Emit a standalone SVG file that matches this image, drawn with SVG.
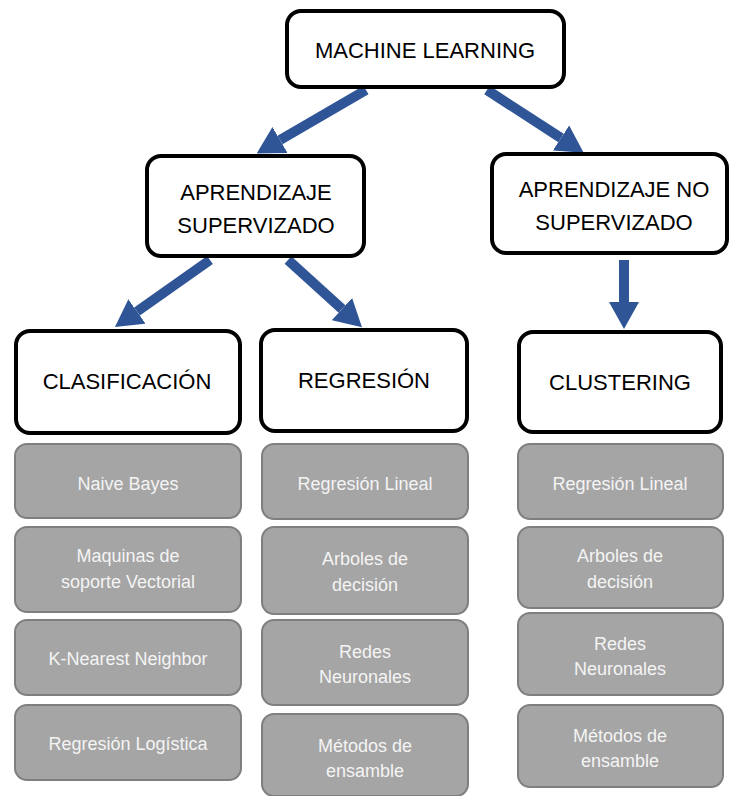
<svg xmlns="http://www.w3.org/2000/svg" width="733" height="796" viewBox="0 0 733 796">
  <style>
    .main rect { fill: #ffffff; stroke: #000000; stroke-width: 4; }
    .main text { font-family: "Liberation Sans", Arial, sans-serif; font-size: 22px; fill: #000000; text-anchor: middle; }
    .item rect { fill: #a5a5a5; stroke: #7f7f7f; stroke-width: 2; }
    .item text { font-family: "Liberation Sans", Arial, sans-serif; font-size: 18px; fill: #f4f4f4; text-anchor: middle; }
    .conn line { stroke: #2f5597; stroke-width: 10; marker-end: url(#head); }
  </style>
  <defs>
    <marker id="head" markerUnits="userSpaceOnUse" viewBox="0 0 27 30" markerWidth="27" markerHeight="30" refX="0" refY="15" orient="auto">
      <path d="M0,0 L27,15 L0,30 z" fill="#2f5597"/>
    </marker>
  </defs>
  <rect width="733" height="796" fill="#ffffff"/>

  <!-- connectors -->
  <g id="connectors" class="conn">
    <line x1="366" y1="90" x2="280" y2="140"/>
    <line x1="487" y1="90" x2="561" y2="138"/>
    <line x1="210" y1="260" x2="137" y2="311.5"/>
    <line x1="288" y1="260" x2="342" y2="309"/>
    <line x1="624" y1="260" x2="624" y2="302"/>
  </g>

  <!-- concept boxes -->
  <g id="machine-learning" class="main">
    <rect x="287" y="11" width="277" height="76" rx="14"/>
    <text x="425" y="58">MACHINE LEARNING</text>
  </g>
  <g id="supervisado" class="main">
    <rect x="147" y="156" width="217" height="100" rx="14"/>
    <text x="256" y="200">APRENDIZAJE</text>
    <text x="256" y="233">SUPERVIZADO</text>
  </g>
  <g id="no-supervisado" class="main">
    <rect x="492" y="154" width="235" height="99" rx="14"/>
    <text x="614" y="197">APRENDIZAJE NO</text>
    <text x="614" y="230">SUPERVIZADO</text>
  </g>
  <g id="clasificacion" class="main">
    <rect x="16" y="331" width="224" height="102" rx="14"/>
    <text x="127" y="389">CLASIFICACIÓN</text>
  </g>
  <g id="regresion" class="main">
    <rect x="261" y="330" width="206" height="101" rx="14"/>
    <text x="364" y="388">REGRESIÓN</text>
  </g>
  <g id="clustering" class="main">
    <rect x="519" y="332" width="202" height="100" rx="14"/>
    <text x="620" y="390">CLUSTERING</text>
  </g>

  <!-- clasificación methods -->
  <g id="naive-bayes" class="item">
    <rect x="15" y="444" width="226" height="74" rx="12"/>
    <text x="128" y="490">Naive Bayes</text>
  </g>
  <g id="svm" class="item">
    <rect x="15" y="527" width="226" height="85" rx="12"/>
    <text x="128" y="562">Maquinas de</text>
    <text x="128" y="588">soporte Vectorial</text>
  </g>
  <g id="knn" class="item">
    <rect x="15" y="620" width="226" height="75" rx="12"/>
    <text x="128" y="665">K-Nearest Neighbor</text>
  </g>
  <g id="logistica" class="item">
    <rect x="15" y="705" width="226" height="75" rx="12"/>
    <text x="128" y="750">Regresión Logística</text>
  </g>

  <!-- regresión methods -->
  <g id="reg-lineal" class="item">
    <rect x="262" y="444" width="206" height="75" rx="12"/>
    <text x="365" y="490">Regresión Lineal</text>
  </g>
  <g id="reg-arboles" class="item">
    <rect x="262" y="527" width="206" height="87" rx="12"/>
    <text x="365" y="565">Arboles de</text>
    <text x="365" y="591">decisión</text>
  </g>
  <g id="reg-redes" class="item">
    <rect x="262" y="620" width="206" height="85" rx="12"/>
    <text x="365" y="658">Redes</text>
    <text x="365" y="683">Neuronales</text>
  </g>
  <g id="reg-ensamble" class="item">
    <rect x="262" y="714" width="206" height="82" rx="12"/>
    <text x="365" y="752">Métodos de</text>
    <text x="365" y="777">ensamble</text>
  </g>

  <!-- clustering methods -->
  <g id="clu-lineal" class="item">
    <rect x="518" y="444" width="205" height="75" rx="12"/>
    <text x="620" y="490">Regresión Lineal</text>
  </g>
  <g id="clu-arboles" class="item">
    <rect x="518" y="527" width="205" height="81" rx="12"/>
    <text x="620" y="562">Arboles de</text>
    <text x="620" y="588">decisión</text>
  </g>
  <g id="clu-redes" class="item">
    <rect x="518" y="613" width="205" height="82" rx="12"/>
    <text x="620" y="650">Redes</text>
    <text x="620" y="675">Neuronales</text>
  </g>
  <g id="clu-ensamble" class="item">
    <rect x="518" y="705" width="205" height="82" rx="12"/>
    <text x="620" y="742">Métodos de</text>
    <text x="620" y="767">ensamble</text>
  </g>
</svg>
